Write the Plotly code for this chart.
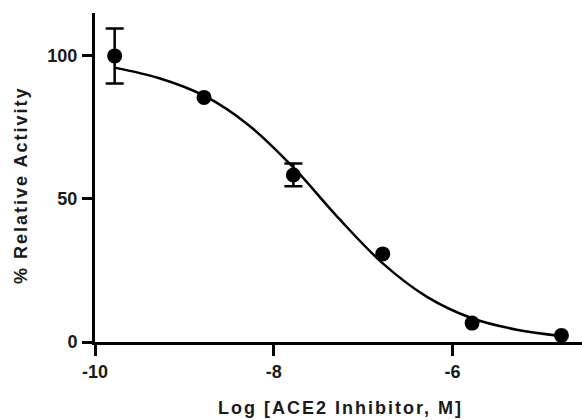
import plotly.graph_objects as go

# Measured data (log molar concentration vs % relative activity)
log_conc = [-9.78, -8.78, -7.78, -6.78, -5.78, -4.78]
activity = [100.0, 85.5, 58.4, 30.8, 6.6, 2.3]
err = [9.6, None, 4.0, None, None, None]

# Fitted curve
curve_x = [-9.78, -9.28, -8.78, -8.28, -7.78, -7.28, -6.78, -6.28, -5.78, -5.28, -4.78]
curve_y = [95.9, 92.2, 86.1, 75.8, 61.0, 43.5, 27.5, 15.7, 8.3, 4.3, 2.1]

x_ticks = [-10, -8, -6]
y_ticks = [0, 50, 100]

FONT = "Liberation Sans, Arial, sans-serif"
TXT = "#1a1a1a"

W, H = 582, 420
L, R, T, B = 95, 0, 13, 78
PW, PH = W - L - R, H - T - B


def px_to_paper(px, py):
    return (px - L) / PW, (H - B - py) / PH


yt_x, yt_y = px_to_paper(21, 186)
xt_x, xt_y = px_to_paper(340, 408)

# only points that have a visible error bar
eb = [(x, y, e) for x, y, e in zip(log_conc, activity, err) if e is not None]

fig = go.Figure()
fig.add_trace(go.Scatter(
    x=curve_x, y=curve_y, mode="lines",
    line=dict(color="black", width=2.5, shape="spline", smoothing=1.0),
    hoverinfo="skip", showlegend=False,
))
fig.add_trace(go.Scatter(
    x=[p[0] for p in eb], y=[p[1] for p in eb], mode="markers",
    marker=dict(color="black", size=1, opacity=0),
    error_y=dict(type="data", array=[p[2] for p in eb], visible=True, color="black",
                 thickness=2.5, width=9),
    hoverinfo="skip", showlegend=False,
))
fig.add_trace(go.Scatter(
    x=log_conc, y=activity, mode="markers",
    marker=dict(color="black", size=15),
    showlegend=False, cliponaxis=False,
))

fig.update_layout(
    width=W, height=H,
    margin=dict(l=L, r=R, t=T, b=B),
    paper_bgcolor="white", plot_bgcolor="white",
    font=dict(family=FONT, color=TXT),
    annotations=[
        dict(text="<b>% Relative Activity</b>", textangle=-90,
             xref="paper", yref="paper", x=yt_x, y=yt_y,
             xanchor="center", yanchor="middle", showarrow=False,
             font=dict(family=FONT, size=18, color=TXT)),
        dict(text="<b>Log [ACE2 Inhibitor, M]</b>",
             xref="paper", yref="paper", x=xt_x, y=xt_y,
             xanchor="center", yanchor="middle", showarrow=False,
             font=dict(family=FONT, size=18, color=TXT)),
    ],
)
fig.update_xaxes(
    range=[-10, -4.55], tickvals=x_ticks, ticktext=[f"<b>{v}</b>" for v in x_ticks],
    showline=True, linecolor="black", linewidth=3,
    ticks="outside", ticklen=11, tickwidth=3, tickcolor="black",
    showgrid=False, zeroline=False, ticklabelstandoff=0,
    tickfont=dict(family=FONT, size=18, color=TXT),
)
fig.update_yaxes(
    range=[0, 115], tickvals=y_ticks, ticktext=[f"<b>{v}</b>" for v in y_ticks],
    showline=True, linecolor="black", linewidth=3,
    ticks="outside", ticklen=10, tickwidth=3, tickcolor="black",
    showgrid=False, zeroline=False, ticklabelstandoff=1,
    tickfont=dict(family=FONT, size=18, color=TXT),
)

post = (
    "document.body.style.margin='0';"
    "document.querySelectorAll('.annotation-text').forEach(function(t){"
    "t.style.letterSpacing='2px';});"
)
fig.write_html("out.html", post_script=post, config={"displayModeBar": False})
